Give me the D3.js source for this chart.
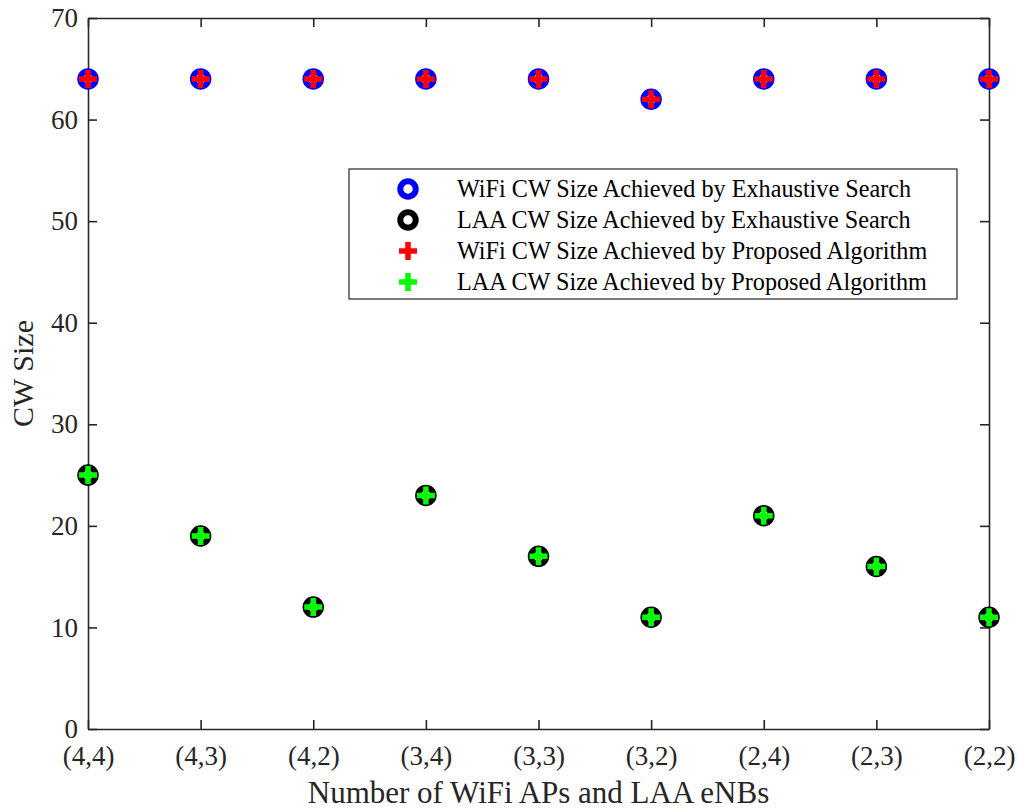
<!DOCTYPE html>
<html>
<head>
<meta charset="utf-8">
<script src="https://cdn.jsdelivr.net/npm/d3@7"></script>
<style>
  body { margin: 0; background: #fff; }
  svg { font-family: "Liberation Serif", "Times New Roman", serif; }
</style>
</head>
<body>
<svg id="chart" width="1018" height="809"></svg>
<script>
// categories and values
const categories = ["(4,4)", "(4,3)", "(4,2)", "(3,4)", "(3,3)", "(3,2)", "(2,4)", "(2,3)", "(2,2)"];
const wifiExhaustive = [64, 64, 64, 64, 64, 62, 64, 64, 64];
const laaExhaustive = [25, 19, 12, 23, 17, 11, 21, 16, 11];
const wifiProposed = [64, 64, 64, 64, 64, 62, 64, 64, 64];
const laaProposed = [25, 19, 12, 23, 17, 11, 21, 16, 11];
const yTicks = [0, 10, 20, 30, 40, 50, 60, 70];
const legendLabels = [
  "WiFi CW Size Achieved by Exhaustive Search",
  "LAA CW Size Achieved by Exhaustive Search",
  "WiFi CW Size Achieved by Proposed Algorithm",
  "LAA CW Size Achieved by Proposed Algorithm"
];

const margin = { top: 18, right: 29, bottom: 80, left: 88 },
  width = 1018 - margin.left - margin.right,
  height = 809 - margin.top - margin.bottom;

const svg = d3.select("#chart")
  .append("g")
  .attr("transform", `translate(${margin.left},${margin.top})`);

const x = d3.scalePoint().domain(categories).range([0, width]);
const y = d3.scaleLinear().domain([0, 70]).range([height, 0]);

const axisColor = "#262626";
const tickLen = 9;

// axes (ticks inward, box on all sides)
const bottom = svg.append("g")
  .attr("transform", `translate(0,${height})`)
  .call(d3.axisBottom(x).tickSizeInner(-tickLen).tickSizeOuter(0).tickPadding(17));
const left = svg.append("g")
  .call(d3.axisLeft(y).tickValues(yTicks).tickSizeInner(-tickLen).tickSizeOuter(0).tickPadding(10));
svg.append("g")
  .call(d3.axisTop(x).tickSizeInner(-tickLen).tickSizeOuter(0).tickFormat(""));
svg.append("g")
  .attr("transform", `translate(${width},0)`)
  .call(d3.axisRight(y).tickValues(yTicks).tickSizeInner(-tickLen).tickSizeOuter(0).tickFormat(""));

svg.selectAll(".domain").attr("stroke", axisColor).attr("stroke-width", 1.6);
svg.selectAll(".tick line").attr("stroke", axisColor).attr("stroke-width", 1.6);
svg.selectAll(".tick text")
  .attr("fill", "#262626")
  .attr("font-size", 27);
svg.selectAll("g").attr("font-family", null).attr("font-size", null);
bottom.selectAll(".tick text").attr("dy", "0.71em");

// axis titles
svg.append("text")
  .attr("x", width / 2)
  .attr("y", height + 74)
  .attr("text-anchor", "middle")
  .attr("fill", "#262626")
  .attr("font-size", 31)
  .text("Number of WiFi APs and LAA eNBs");

svg.append("text")
  .attr("transform", `translate(-55,${height / 2}) rotate(-90)`)
  .attr("text-anchor", "middle")
  .attr("fill", "#262626")
  .attr("font-size", 30)
  .text("CW Size");

// marker drawing helpers
function ring(g, cx, cy, color) {
  g.append("circle")
    .attr("cx", cx).attr("cy", cy).attr("r", 7.75)
    .attr("fill", "none")
    .attr("stroke", color)
    .attr("stroke-width", 6);
}
function cross(g, cx, cy, color) {
  g.append("path")
    .attr("d", `M${cx - 9},${cy}H${cx + 9}M${cx},${cy - 9}V${cy + 9}`)
    .attr("stroke", color)
    .attr("stroke-width", 5.5)
    .attr("fill", "none");
}

const marks = svg.append("g");
categories.forEach((c, i) => ring(marks, x(c), y(wifiExhaustive[i]), "#0000ff"));
categories.forEach((c, i) => ring(marks, x(c), y(laaExhaustive[i]), "#000000"));
categories.forEach((c, i) => cross(marks, x(c), y(wifiProposed[i]), "#ff0000"));
categories.forEach((c, i) => cross(marks, x(c), y(laaProposed[i]), "#00ff00"));

// legend
const legend = svg.append("g").attr("transform", `translate(${349 - margin.left},${169 - margin.top})`);
legend.append("rect")
  .attr("width", 608).attr("height", 130)
  .attr("fill", "#fff")
  .attr("stroke", axisColor)
  .attr("stroke-width", 1.2);

const legendColors = ["#0000ff", "#000000", "#ff0000", "#00ff00"];
legendLabels.forEach((label, i) => {
  const ly = 20 + i * 31;
  if (i < 2) ring(legend, 59, ly, legendColors[i]);
  else cross(legend, 59, ly, legendColors[i]);
  legend.append("text")
    .attr("x", 108)
    .attr("y", ly)
    .attr("dy", "0.35em")
    .attr("fill", "#000")
    .attr("font-size", 24.2)
    .text(label);
});
</script>
</body>
</html>
